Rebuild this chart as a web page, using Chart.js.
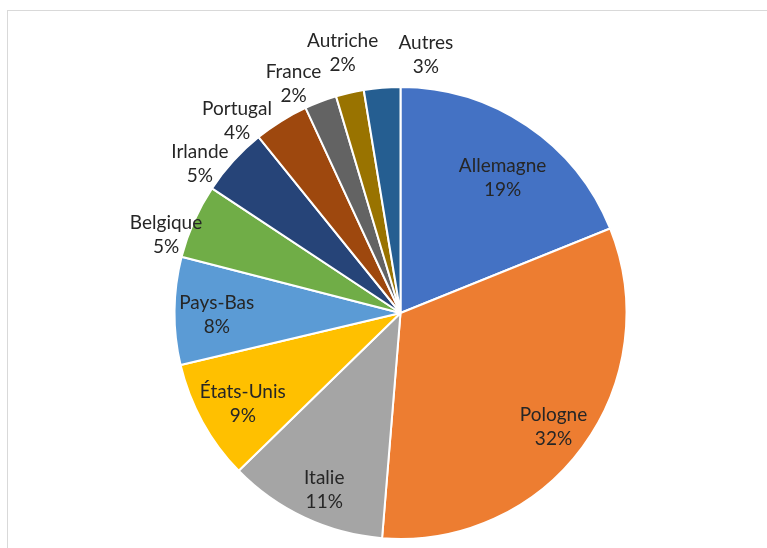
<!DOCTYPE html>
<html lang="fr">
<head>
<meta charset="utf-8">
<title>Répartition par pays</title>
<script src="https://cdn.jsdelivr.net/npm/chart.js@4.4.1/dist/chart.umd.min.js"></script>
<style>
  html, body { margin: 0; padding: 0; background: #fff; }
  #wrap { width: 767px; height: 548px; position: relative; }
</style>
</head>
<body>
<div id="wrap"><canvas id="pie-chart"></canvas></div>
<script>
// Données (parts en %, estimées d'après les angles)
const pays = ['Allemagne', 'Pologne', 'Italie', 'États-Unis', 'Pays-Bas', 'Belgique', 'Irlande', 'Portugal', 'France', 'Autriche', 'Autres'];
const parts = [18.9, 32.4, 11.4, 8.6, 7.7, 5.3, 4.9, 3.9, 2.3, 2.0, 2.6];
const couleurs = ['#4472C4', '#ED7D31', '#A5A5A5', '#FFC000', '#5B9BD5', '#70AD47', '#264478', '#9E480E', '#636363', '#997300', '#255E91'];

// placement des étiquettes : rayon relatif et petit décalage angulaire (degrés)
const etiquetteRayon = [0.75, 0.845, 0.853, 0.805, 0.813, 1.093, 1.107, 1.117, 1.118, 1.178, 1.147];
const etiquetteDecalage = [3.0, 0.4, -1.9, -1.1, -1.1, -5.6, -5.6, -8.5, -4.35, 0.4, 10.3];

// cadre gris clair autour du graphique
const cadrePlugin = {
  id: 'cadre',
  beforeDraw(chart) {
    const ctx = chart.ctx;
    ctx.save();
    ctx.strokeStyle = '#d9d9d9';
    ctx.lineWidth = 1;
    ctx.strokeRect(7.5, 10.5, chart.width + 10, chart.height + 10);
    ctx.restore();
  }
};

// étiquettes nom + pourcentage
const etiquettesPlugin = {
  id: 'etiquettes',
  afterDatasetsDraw(chart) {
    const ctx = chart.ctx;
    const meta = chart.getDatasetMeta(0);
    const total = parts.reduce((a, b) => a + b, 0);
    ctx.save();
    ctx.font = '19px Lato, "Open Sans", sans-serif';
    ctx.fillStyle = '#262626';
    ctx.textAlign = 'center';
    ctx.textBaseline = 'middle';
    meta.data.forEach((arc, i) => {
      const p = arc.getProps(['x', 'y', 'startAngle', 'endAngle', 'outerRadius'], true);
      const angle = (p.startAngle + p.endAngle) / 2 + etiquetteDecalage[i] * Math.PI / 180;
      const r = p.outerRadius * etiquetteRayon[i];
      const px = p.x + Math.cos(angle) * r;
      const py = p.y + Math.sin(angle) * r;
      ctx.fillText(pays[i], px, py - 12);
      ctx.fillText(Math.round(parts[i] / total * 100) + '%', px, py + 12);
    });
    ctx.restore();
  }
};

new Chart(document.getElementById('pie-chart'), {
  type: 'pie',
  data: {
    labels: pays,
    datasets: [{
      data: parts,
      backgroundColor: couleurs,
      borderColor: '#ffffff',
      borderWidth: 2
    }]
  },
  options: {
    responsive: true,
    maintainAspectRatio: false,
    animation: false,
    layout: {
      padding: { top: 86, bottom: 8, left: 173, right: 139 }
    },
    plugins: {
      legend: { display: false },
      tooltip: { enabled: false }
    }
  },
  plugins: [cadrePlugin, etiquettesPlugin]
});
</script>
</body>
</html>
